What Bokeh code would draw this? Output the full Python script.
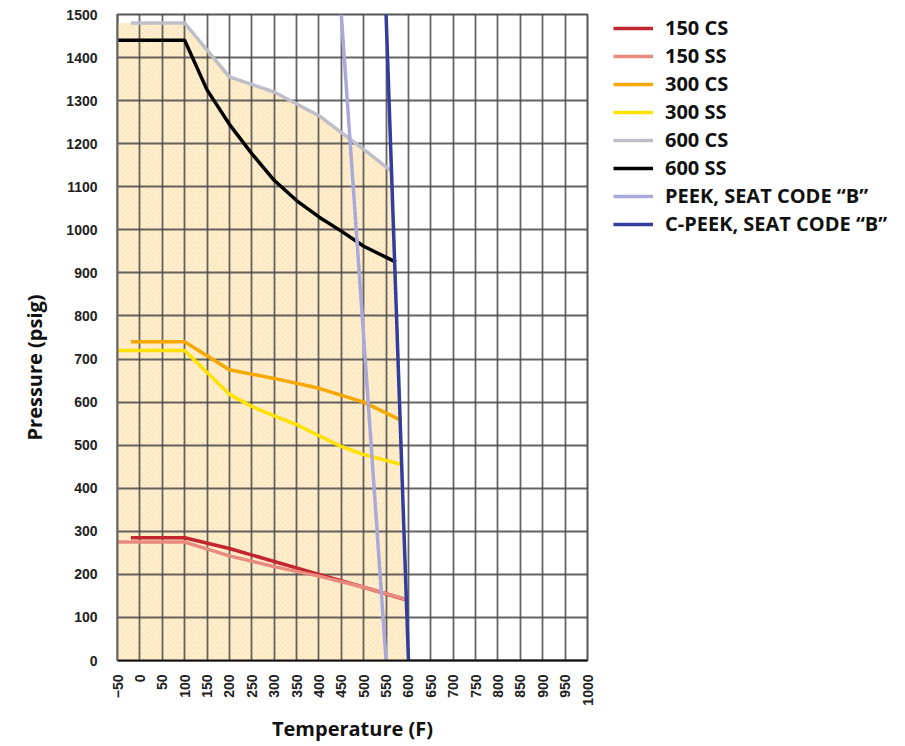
import math
from bokeh.plotting import figure
from bokeh.models import Range1d, FixedTicker, Legend, LegendItem, Title
from bokeh.embed import file_html
from bokeh.resources import INLINE

# ---- data (temperature F, pressure psig) ----
t_150cs = [-20, 100, 200, 300, 400, 500, 595]
p_150cs = [285, 285, 260, 230, 200, 170, 141]
t_150ss = [-50, 100, 200, 300, 400, 500, 595]
p_150ss = [275, 275, 243, 218, 196, 170, 142]
t_300cs = [-20, 100, 200, 300, 400, 500, 585]
p_300cs = [740, 740, 675, 655, 632, 600, 557]
t_300ss = [-50, 100, 200, 250, 300, 350, 400, 450, 500, 585]
p_300ss = [720, 720, 618, 590, 568, 548, 522, 497, 478, 455]
t_600cs = [-20, 100, 200, 300, 400, 500, 560]
p_600cs = [1480, 1480, 1355, 1320, 1265, 1187, 1138]
t_600ss = [-50, 100, 150, 200, 250, 300, 350, 400, 450, 500, 572]
p_600ss = [1440, 1440, 1325, 1245, 1177, 1115, 1068, 1030, 997, 962, 925]
t_peek = [450, 550]
p_peek = [1500, 0]
t_cpeek = [550, 600]
p_cpeek = [1500, 0]

x_ticks = list(range(-50, 1001, 50))
y_ticks = list(range(0, 1501, 100))

p = figure(output_backend="svg", toolbar_location=None,
           frame_width=470, frame_height=646,
           x_range=Range1d(-50, 1000), y_range=Range1d(0, 1500),
           min_border_left=117, min_border_top=14, min_border_bottom=84,
           min_border_right=0, background_fill_color="white")

# fill region (below 600 CS and left of C-PEEK)
fx = [x_ticks[0], x_ticks[0]] + t_600cs + [t_cpeek[-1]]
fy = [y_ticks[0], p_600cs[0]] + p_600cs + [y_ticks[0]]
fill = p.patch(fx, fy, fill_color="#FFEFCC", line_color=None,
               hatch_pattern="diagonal_cross", hatch_color="#F7C9A5",
               hatch_scale=5, hatch_weight=0.6, hatch_alpha=0.5)
fill.level = "underlay"

# grid
for g in (p.xgrid, p.ygrid):
    g.grid_line_color = "#4a4a4a"
    g.grid_line_width = 1.8
    g.grid_line_alpha = 0.85
p.xgrid.ticker = FixedTicker(ticks=x_ticks)
p.ygrid.ticker = FixedTicker(ticks=y_ticks)

lw = 3.5
r1 = p.line(t_150cs, p_150cs, line_color="#C3262E", line_width=lw)
r2 = p.line(t_150ss, p_150ss, line_color="#E88A7E", line_width=lw)
r3 = p.line(t_300cs, p_300cs, line_color="#F7A800", line_width=lw)
r4 = p.line(t_300ss, p_300ss, line_color="#FFE100", line_width=lw)
r5 = p.line(t_600cs, p_600cs, line_color="#BEBEC8", line_width=lw)
r6 = p.line(t_600ss, p_600ss, line_color="#000000", line_width=lw)
r7 = p.line(t_peek, p_peek, line_color="#A9A9DA", line_width=lw)
r8 = p.line(t_cpeek, p_cpeek, line_color="#333E9C", line_width=lw)

# axes
p.xaxis.ticker = FixedTicker(ticks=x_ticks)
p.yaxis.ticker = FixedTicker(ticks=y_ticks)
p.xaxis.major_label_orientation = math.pi / 2
for ax in (p.xaxis, p.yaxis):
    ax.major_tick_line_color = None
    ax.minor_tick_line_color = None
    ax.major_label_text_font = "Liberation Sans"
    ax.major_label_text_font_style = "bold"
    ax.major_label_text_font_size = "14px"
    ax.major_label_text_color = "#222222"
    ax.axis_label_text_font = "Open Sans"
    ax.axis_label_text_font_style = "bold"
    ax.axis_label_text_font_size = "20px"
    ax.axis_label_text_color = "#111111"
p.xaxis.axis_label = "Temperature (F)"
p.xaxis.major_label_standoff = 8
p.yaxis.major_label_standoff = 14
p.xaxis.axis_label_standoff = 6
p.xaxis.axis_line_color = "#111111"
p.xaxis.axis_line_width = 2
p.yaxis.axis_line_color = "#666666"
p.yaxis.axis_line_width = 2

# y axis title, placed slightly below the frame centre as in the original
ytitle = Title(text="Pressure (psig)", align="left", offset=220,
               vertical_align="top",
               text_font="Open Sans", text_font_style="bold",
               text_font_size="20px", text_color="#111111", standoff=28)
p.add_layout(ytitle, "left")

p.outline_line_color = "#555555"
p.outline_line_width = 2

legend = Legend(items=[
    LegendItem(label="150 CS", renderers=[r1]),
    LegendItem(label="150 SS", renderers=[r2]),
    LegendItem(label="300 CS", renderers=[r3]),
    LegendItem(label="300 SS", renderers=[r4]),
    LegendItem(label="600 CS", renderers=[r5]),
    LegendItem(label="600 SS", renderers=[r6]),
    LegendItem(label="PEEK, SEAT CODE \u201cB\u201d", renderers=[r7]),
    LegendItem(label="C-PEEK, SEAT CODE \u201cB\u201d", renderers=[r8]),
], location=(26, 423))
legend.label_text_font = "Open Sans"
legend.label_text_font_style = "bold"
legend.label_text_font_size = "20px"
legend.label_text_color = "#111111"
legend.glyph_width = 40
legend.glyph_height = 20
legend.label_height = 20
legend.label_standoff = 12
legend.spacing = 1
legend.padding = 0
legend.margin = 0
legend.border_line_color = None
legend.background_fill_alpha = 0
p.add_layout(legend, "right")

open("out.html", "w").write(file_html(p, INLINE))
